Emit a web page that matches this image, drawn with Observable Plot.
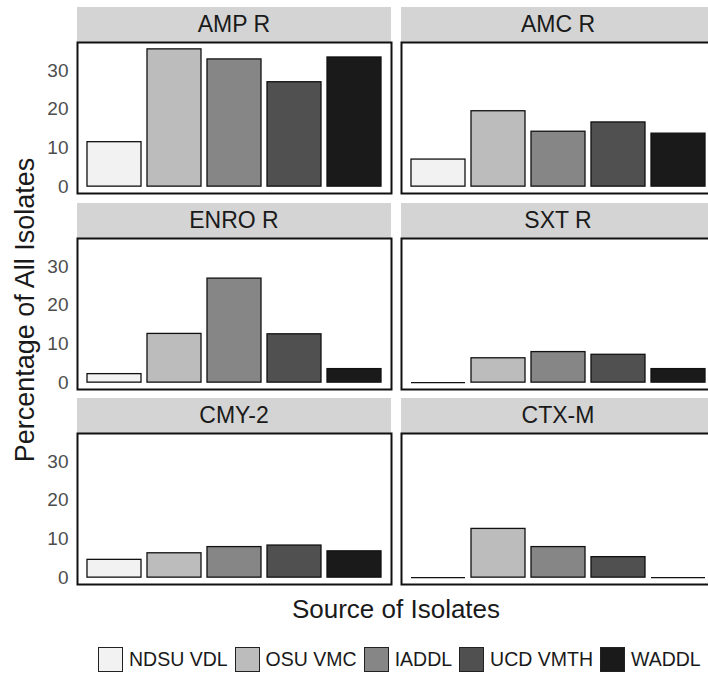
<!DOCTYPE html>
<html>
<head>
<meta charset="utf-8">
<script src="https://cdn.jsdelivr.net/npm/d3@7"></script>
<script src="https://cdn.jsdelivr.net/npm/@observablehq/plot@0.6"></script>
<style>
  html, body { margin: 0; padding: 0; background: #fff; overflow: hidden; width: 708px; height: 674px; }
  #root { position: relative; width: 708px; height: 674px; overflow: hidden; font-family: Arial, "Liberation Sans", sans-serif; }
  .strip { position: absolute; height: 35px; background: #d4d4d4; display: flex; align-items: center; justify-content: center; font-size: 23px; color: #1a1a1a; }
  .ytitle { position: absolute; left: 24.5px; top: 310px; transform: translate(-50%, -50%) rotate(-90deg); white-space: nowrap; font-size: 27px; color: #1a1a1a; }
  .xtitle { position: absolute; left: 0; width: 792px; top: 596px; text-align: center; font-size: 26px; line-height: 26px; color: #1a1a1a; }
  .legend { position: absolute; left: 98px; top: 647px; height: 25px; display: flex; align-items: center; font-size: 19.5px; color: #1a1a1a; white-space: nowrap; }
  .legend .box { width: 25px; height: 25px; box-sizing: border-box; border: 1.5px solid #222; margin-right: 6px; }
  .legend .lab { margin-right: 7px; }
</style>
</head>
<body>
<div id="root"></div>
<script>
// ---- Data ----
const sources = ["NDSU VDL", "OSU VMC", "IADDL", "UCD VMTH", "WADDL"];
const fills = ["#f2f2f2", "#bcbcbc", "#868686", "#505050", "#1a1a1a"];
const panels = ["AMP R", "AMC R", "ENRO R", "SXT R", "CMY-2", "CTX-M"];
const ampR  = [11.5, 35.5, 32.9, 27.0, 33.4];
const amcR  = [7.0, 19.5, 14.2, 16.6, 13.7];
const enroR = [2.2, 12.6, 26.9, 12.5, 3.5];
const sxtR  = [0, 6.3, 7.9, 7.2, 3.5];
const cmy2  = [4.6, 6.3, 7.9, 8.3, 6.8];
const ctxM  = [0, 12.6, 7.9, 5.3, 0];
const yTicks = [0, 10, 20, 30];
const yTitle = "Percentage of All Isolates";
const xTitle = "Source of Isolates";

const panelData = [ampR, amcR, enroR, sxtR, cmy2, ctxM];
const M = d3.max(panelData.flat());
const root = document.getElementById("root");
const font = 'Arial, "Liberation Sans", sans-serif';

panels.forEach((name, i) => {
  const col = i % 2, row = Math.floor(i / 2);
  const left = col === 0;
  const panelTop = 42 + row * 195.7;
  const panelLeft = left ? 77 : 401;
  const rows = sources.map((s, j) => ({source: s, value: panelData[i][j]}));

  const strip = document.createElement("div");
  strip.className = "strip";
  strip.style.left = panelLeft + "px";
  strip.style.width = "314px";
  strip.style.top = (panelTop - 35) + "px";
  strip.textContent = name;
  root.appendChild(strip);

  const plot = Plot.plot({
    width: left ? 393 : 318,
    height: 155,
    marginLeft: left ? 77 : 2,
    marginRight: 2,
    marginTop: 2,
    marginBottom: 2,
    style: {fontSize: "19px", fontFamily: font, color: "#4d4d4d", background: "transparent", overflow: "visible"},
    x: {domain: sources, paddingInner: 0.1, paddingOuter: 0.15, axis: null},
    y: {domain: [-0.05 * M, 1.05 * M], ticks: yTicks, tickSize: 0, tickPadding: 9, axis: left ? "left" : null, label: null},
    color: {domain: sources, range: fills},
    marks: [
      Plot.barY(rows, {x: "source", y: "value", fill: "source", stroke: "#111", strokeWidth: 1.3}),
      Plot.tickY(rows.filter(d => d.value === 0), {x: "source", y: "value", stroke: "#111", strokeWidth: 1.3}),
      Plot.frame({stroke: "#111", strokeWidth: 2})
    ]
  });
  plot.style.position = "absolute";
  plot.style.left = (left ? 0 : 399) + "px";
  plot.style.top = (panelTop - 2) + "px";
  root.appendChild(plot);
});

const yt = document.createElement("div");
yt.className = "ytitle";
yt.textContent = yTitle;
root.appendChild(yt);

const xt = document.createElement("div");
xt.className = "xtitle";
xt.textContent = xTitle;
root.appendChild(xt);

const legend = document.createElement("div");
legend.className = "legend";
sources.forEach((s, j) => {
  const b = document.createElement("span");
  b.className = "box";
  b.style.background = fills[j];
  const t = document.createElement("span");
  t.className = "lab";
  t.textContent = s;
  legend.appendChild(b);
  legend.appendChild(t);
});
root.appendChild(legend);
</script>
</body>
</html>
